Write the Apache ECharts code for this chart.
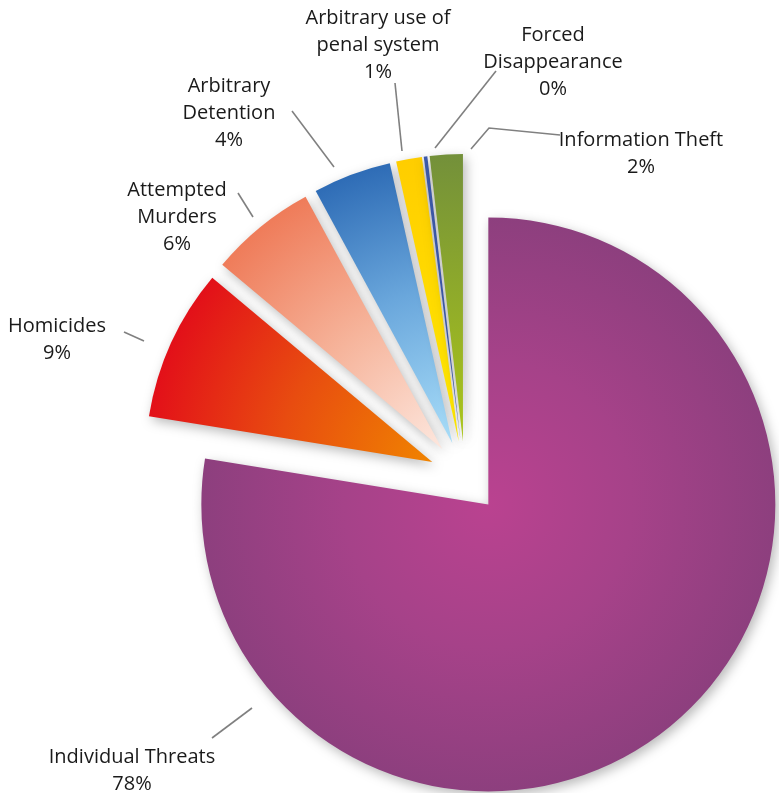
<!DOCTYPE html>
<html><head><meta charset="utf-8">
<script src="https://cdn.jsdelivr.net/npm/echarts@6/dist/echarts.min.js"></script>
<style>html,body{margin:0;padding:0;background:#fff}#c{width:779px;height:793px}</style>
</head><body><div id="c"></div>
<script>
// ---- data ----
const categories = ['Individual Threats', 'Homicides', 'Attempted Murders', 'Arbitrary Detention',
  'Arbitrary use of penal system', 'Forced Disappearance', 'Information Theft'];
const labelTexts = ['Individual Threats', 'Homicides', 'Attempted\nMurders', 'Arbitrary\nDetention',
  'Arbitrary use of\npenal system', 'Forced\nDisappearance', 'Information Theft'];
const values = [77.55, 8.55, 6.0, 4.4, 1.45, 0.2, 1.85];

// ---- label layout (annotation placement) ----
const labelCenters = [[132, 771], [57, 340], [177, 217], [229, 113], [378, 45], [553, 62], [641, 154]];
const leaderLines = [
  [[252, 708], [212, 738]],
  [[144, 341], [124, 332]],
  [[253, 217], [238, 193]],
  [[334, 167], [292, 111]],
  [[402, 151], [395, 83]],
  [[435, 148], [496, 71]],
  [[471, 149], [489, 128], [560, 135]]
];

// ---- styles ----
function radial(x, y, r, stops) {
  return { type: 'radial', x: x, y: y, r: r,
    colorStops: stops.map((c, i) => ({ offset: i / (stops.length - 1), color: c })) };
}
function linear(x, y, x2, y2, stops) {
  return { type: 'linear', x: x, y: y, x2: x2, y2: y2,
    colorStops: stops.map((c, i) => ({ offset: i / (stops.length - 1), color: c })) };
}
const sliceColors = [
  radial(0.5, 0.5, 0.5, ['#ba4290', '#a64289', '#8d3f7e']),
  radial(1, 1, 1.65, ['#f08400', '#e84c10', '#e2081a']),
  radial(1, 1, 1.3, ['#fde7de', '#f6b49b', '#ef7c5a']),
  radial(1, 1, 2.25, ['#a9def9', '#6aa7dc', '#2563b0']),
  linear(0, 0, 0, 1, ['#ffcd00', '#ffe900']),
  '#3d5aac',
  linear(0, 0, 0, 1, ['#73903a', '#acc61a'])
];

const pieCenter = [465, 477];
const pieRadius = 287;

const chart = echarts.init(document.getElementById('c'), null, { renderer: 'canvas' });
chart.setOption({
  animation: false,
  backgroundColor: '#ffffff',
  series: [{
    // slices
    type: 'pie',
    center: pieCenter,
    radius: pieRadius,
    startAngle: 90,
    clockwise: true,
    avoidLabelOverlap: false,
    selectedMode: 'multiple',
    selectedOffset: 36,
    emphasis: { disabled: true },
    silent: true,
    itemStyle: {
      shadowBlur: 12,
      shadowColor: 'rgba(0,0,0,0.28)',
      shadowOffsetX: 3,
      shadowOffsetY: 4
    },
    label: { show: false },
    labelLine: { show: false },
    data: categories.map((name, i) => ({
      name: name,
      value: values[i],
      selected: true,
      itemStyle: { color: sliceColors[i] },
      select: { itemStyle: { color: sliceColors[i] } }
    }))
  }, {
    // labels for the same data
    type: 'pie',
    center: pieCenter,
    radius: pieRadius,
    startAngle: 90,
    clockwise: true,
    avoidLabelOverlap: false,
    silent: true,
    emphasis: { disabled: true },
    itemStyle: { color: 'rgba(0,0,0,0)' },
    label: {
      show: true,
      position: 'outside',
      formatter: p => labelTexts[p.dataIndex] + '\n' + Math.round(p.percent) + '%',
      fontFamily: 'Open Sans',
      fontSize: 20,
      lineHeight: 27,
      color: '#1a1a1a',
      align: 'center'
    },
    labelLine: {
      show: true,
      length: 10,
      length2: 0,
      lineStyle: { color: '#808080', width: 1.6 }
    },
    labelLayout: function (params) {
      const i = params.dataIndex;
      return {
        x: labelCenters[i][0],
        y: labelCenters[i][1],
        align: 'center',
        verticalAlign: 'middle',
        labelLinePoints: leaderLines[i]
      };
    },
    data: categories.map((name, i) => ({ name: name, value: values[i] }))
  }]
});
</script>
</body></html>
